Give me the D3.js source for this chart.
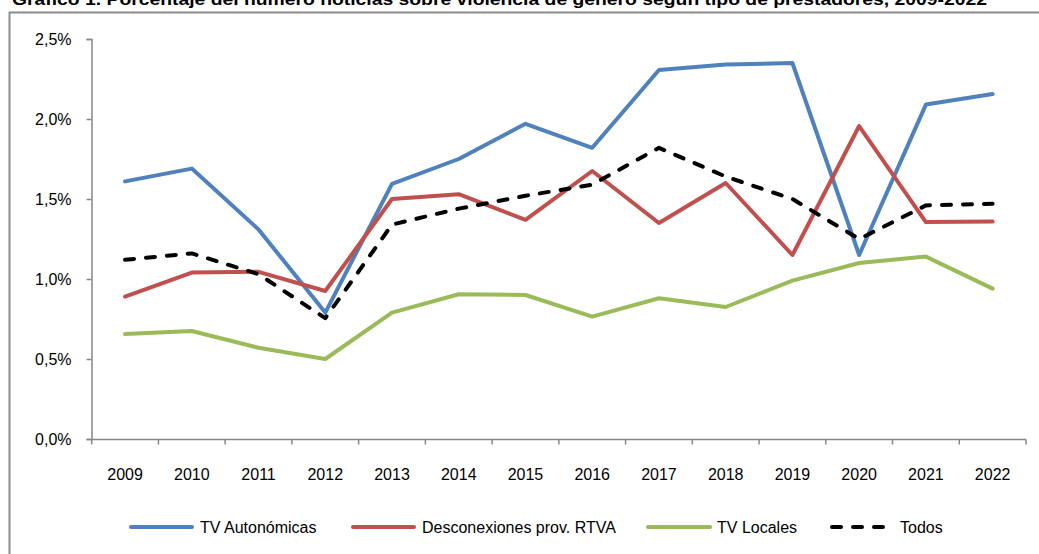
<!DOCTYPE html>
<html>
<head>
<meta charset="utf-8">
<script src="https://cdn.jsdelivr.net/npm/d3@7"></script>
<style>
  html, body { margin: 0; padding: 0; background: #fff; }
  svg { display: block; font-family: "Liberation Sans", Arial, sans-serif; }
</style>
</head>
<body>
<svg id="chart" width="1039" height="554"></svg>
<script>
const titleText = "Gráfico 1. Porcentaje del número noticias sobre violencia de género según tipo de prestadores, 2009-2022";
const years = ["2009","2010","2011","2012","2013","2014","2015","2016","2017","2018","2019","2020","2021","2022"];
const yTicks = [0, 0.5, 1.0, 1.5, 2.0, 2.5];
const seriesNames = ["TV Autonómicas", "Desconexiones prov. RTVA", "TV Locales", "Todos"];
const tvAutonomicas = [1.61, 1.69, 1.31, 0.79, 1.595, 1.75, 1.97, 1.82, 2.306, 2.34, 2.35, 1.15, 2.09, 2.156];
const desconexiones = [0.89, 1.04, 1.045, 0.925, 1.50, 1.53, 1.37, 1.675, 1.35, 1.60, 1.15, 1.956, 1.356, 1.36];
const tvLocales    = [0.656, 0.675, 0.57, 0.50, 0.79, 0.905, 0.90, 0.765, 0.88, 0.825, 0.99, 1.10, 1.14, 0.94];
const todos        = [1.12, 1.16, 1.03, 0.755, 1.34, 1.44, 1.52, 1.59, 1.82, 1.64, 1.50, 1.25, 1.46, 1.47];

const seriesData = [tvAutonomicas, desconexiones, tvLocales, todos];
const colors = ["#4F81BD", "#C0504D", "#9BBB59", "#000000"];
const dashed = [false, false, false, true];

const svg = d3.select("#chart");

// outer frame
svg.append("rect").attr("x", 9.5).attr("y", 12.5).attr("width", 1100).attr("height", 600)
  .attr("fill", "none").attr("stroke", "#8c8c8c").attr("stroke-width", 2);

// title (cut at top)
svg.append("text").attr("x", 12).attr("y", 5)
  .attr("font-weight", "bold").attr("font-size", 16).attr("fill", "#000")
  .attr("textLength", 975).attr("lengthAdjust", "spacingAndGlyphs")
  .text(titleText);

const x = d3.scalePoint().domain(years).range([91.7, 1026]).padding(0.5);
const y = d3.scaleLinear().domain([0, 2.5]).range([439, 39]);

const axisColor = "#868686";

// Y axis
const yAxis = svg.append("g").attr("transform", "translate(91.5,0)")
  .call(d3.axisLeft(y).tickValues(yTicks).tickSize(5).tickPadding(15)
    .tickFormat(d => d3.format(".1f")(d).replace(".", ",") + "%"));
yAxis.select(".domain").attr("stroke", axisColor).attr("stroke-width", 1.5);
yAxis.selectAll(".tick line").attr("stroke", axisColor).attr("stroke-width", 1.5);
yAxis.selectAll(".tick text").attr("font-size", 16).attr("fill", "#000")
  .attr("font-family", "Liberation Sans, Arial, sans-serif");

// X axis
const xBand = d3.scaleBand().domain(years).range([91.7, 1026]);
const xAxisG = svg.append("g").attr("transform", "translate(0,439.5)");
xAxisG.append("line").attr("x1", 91.7).attr("x2", 1026).attr("y1", 0).attr("y2", 0)
  .attr("stroke", axisColor).attr("stroke-width", 1.5);
const tickPositions = years.map(yr => xBand(yr)).concat([xBand.range()[1]]);
xAxisG.selectAll("line.tk").data(tickPositions).enter().append("line").attr("class", "tk")
  .attr("x1", d => d).attr("x2", d => d).attr("y1", 0).attr("y2", 5)
  .attr("stroke", axisColor).attr("stroke-width", 1.5);
xAxisG.selectAll("text").data(years).enter().append("text")
  .attr("x", d => x(d)).attr("y", 40).attr("text-anchor", "middle")
  .attr("font-size", 16).attr("fill", "#000").text(d => d);

// lines
const line = d3.line().x((d, i) => x(years[i])).y(d => y(d));
seriesData.forEach((s, k) => {
  const p = svg.append("path").datum(s).attr("d", line)
    .attr("fill", "none").attr("stroke", colors[k]).attr("stroke-width", 4)
    .attr("stroke-linejoin", "round");
  if (dashed[k]) p.attr("stroke-dasharray", "9,12").attr("stroke-linecap", "round");
  else p.attr("stroke-linecap", "round");
});

// legend
const legendItems = [
  {x1: 131, x2: 192, tx: 200},
  {x1: 353, x2: 414, tx: 422},
  {x1: 648, x2: 710, tx: 717},
  {x1: 832, x2: 887, tx: 900}
];
legendItems.forEach((it, k) => {
  const l = svg.append("line").attr("x1", it.x1).attr("x2", it.x2).attr("y1", 527).attr("y2", 527)
    .attr("stroke", colors[k]).attr("stroke-width", 4).attr("stroke-linecap", "round");
  if (dashed[k]) l.attr("stroke-dasharray", "9,12");
  svg.append("text").attr("x", it.tx).attr("y", 533).attr("font-size", 16).attr("fill", "#000")
    .text(seriesNames[k]);
});
</script>
</body>
</html>
